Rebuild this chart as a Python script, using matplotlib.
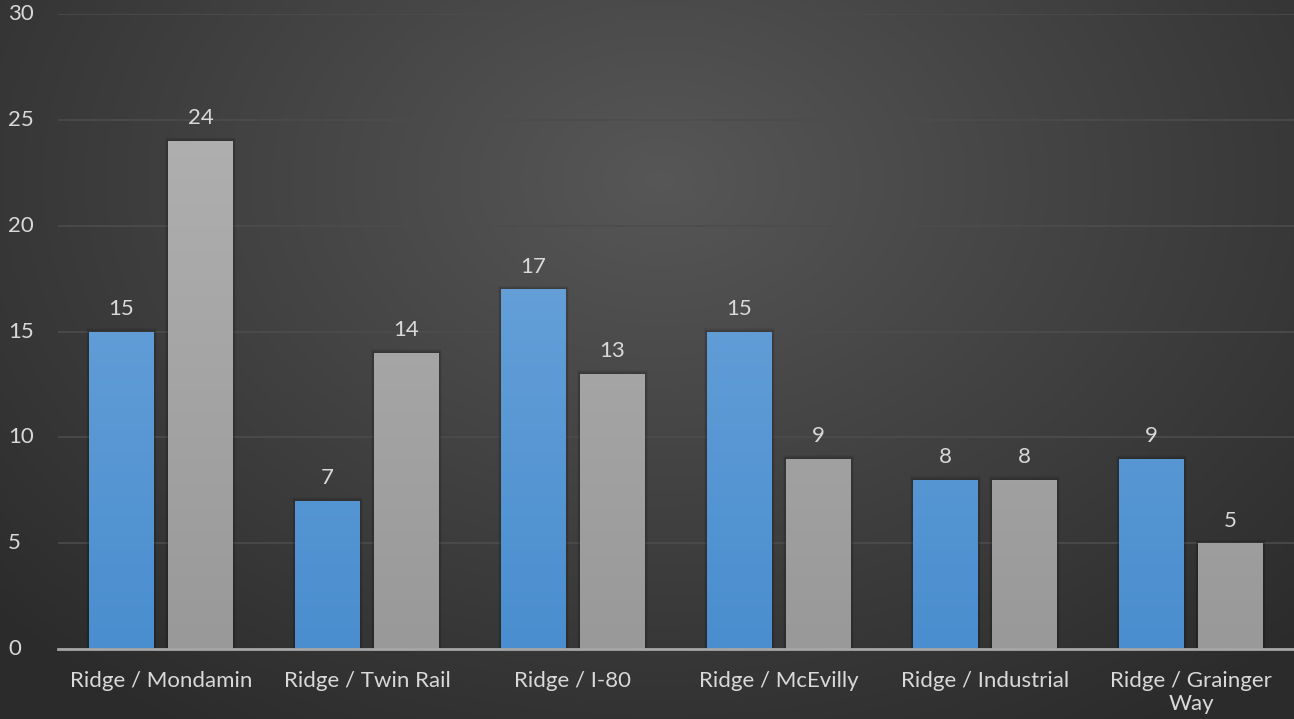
import matplotlib
matplotlib.use("Agg")
import matplotlib.pyplot as plt
import matplotlib.transforms as mtrans
import numpy as np

# data
categories = ["Ridge / Mondamin", "Ridge / Twin Rail", "Ridge / I-80",
              "Ridge / McEvilly", "Ridge / Industrial", "Ridge / Grainger\nWay"]
series_blue = [15, 7, 17, 15, 8, 9]
series_gray = [24, 14, 13, 9, 8, 5]
yticks = [0, 5, 10, 15, 20, 25, 30]

plt.rcParams['font.family'] = ['Lato', 'DejaVu Sans']
txt_color = '#d9d9d9'
fs = 16

fig = plt.figure(figsize=(12.94, 7.19), dpi=100)

# radial gradient background
bg = fig.add_axes([0, 0, 1, 1], zorder=-10)
yy, xx = np.mgrid[0:719, 0:1294]
d = np.sqrt(((xx - 660) / 900.0) ** 2 + ((yy - 180) / 650.0) ** 2)
shade = 0.34 - 0.17 * np.clip(d, 0, 1)
bg.imshow(np.dstack([shade, shade, shade]), aspect='auto', extent=[0, 1, 0, 1])
bg.axis('off')

ax = fig.add_axes([58 / 1294, 70 / 719, 1236 / 1294, 635 / 719])
ax.patch.set_alpha(0)

x = np.arange(len(categories))
w = 0.315
off = 0.192

def grad_bars(xs, vals, top, bottom):
    bars = ax.bar(xs, vals, width=w, color=bottom, zorder=3, linewidth=0)
    cmap = matplotlib.colors.LinearSegmentedColormap.from_list('g', [bottom, top])
    for b in bars:
        # soft shadow, a few layers
        cx = b.get_x() + b.get_width() / 2
        for k in range(1, 5):
            ax.bar(cx, b.get_height() + 0.04 * k, width=w + 0.008 * k,
                   color='black', alpha=0.05, zorder=2, linewidth=0)
        x0, x1 = b.get_x(), b.get_x() + b.get_width()
        im = ax.imshow(np.linspace(0, 1, 256).reshape(-1, 1), cmap=cmap, origin='lower',
                       extent=[x0, x1, 0, 30], aspect='auto', zorder=4)
        im.set_clip_path(b)
    return bars

bb = grad_bars(x - off, series_blue, '#77abde', '#4a8ecf')
gb = grad_bars(x + off, series_gray, '#b4b4b4', '#999999')

for xs, vals in [(x - off, series_blue), (x + off, series_gray)]:
    for xi, v in zip(xs, vals):
        ax.annotate(str(v), (xi, v), xytext=(0, 9), textcoords='offset points',
                    ha='center', va='bottom', color=txt_color, fontsize=fs)

ax.set_xlim(-0.5, len(categories) - 0.5)
ax.set_ylim(0, 30)
ax.set_yticks(yticks)
ax.set_yticklabels([])
trans = mtrans.blended_transform_factory(ax.transAxes, ax.transData)
for t in yticks:
    ax.text(-50 / 1236, t, str(t), transform=trans, ha='left', va='center',
            color=txt_color, fontsize=fs)
ax.yaxis.grid(True, color='#4c4c4c', linewidth=1.2, zorder=0)
ax.set_axisbelow(True)
ax.set_xticks(x)
ax.set_xticklabels(categories, linespacing=1.15)
ax.tick_params(axis='both', length=0, colors=txt_color, labelsize=fs)
ax.tick_params(axis='x', pad=16)
for s in ['top', 'right', 'left']:
    ax.spines[s].set_visible(False)
ax.spines['bottom'].set_color('#a6a6a6')
ax.spines['bottom'].set_linewidth(2)
ax.spines['bottom'].set_zorder(5)

fig.savefig('out.png', dpi=100)
